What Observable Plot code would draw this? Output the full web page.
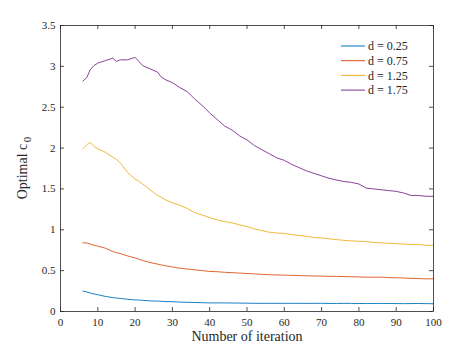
<!DOCTYPE html>
<html><head><meta charset="utf-8">
<script src="https://cdn.jsdelivr.net/npm/d3@7"></script>
<script src="https://cdn.jsdelivr.net/npm/@observablehq/plot@0.6"></script>
<style>
body{margin:0;background:#fff;}
#wrap{position:relative;width:467px;height:350px;}
</style></head><body><div id="wrap"></div>
<script>
const iterations = [6,7,8,9,10,12,14,15,16,18,20,21,22,24,26,27,28,30,32,34,36,38,40,42,44,46,48,50,52,54,56,58,60,62,64,66,68,70,72,74,76,78,80,82,84,86,88,90,92,94,96,98,100];
const c0_d025 = [0.25,0.24,0.225,0.215,0.205,0.185,0.17,0.165,0.16,0.15,0.142,0.14,0.137,0.13,0.127,0.125,0.122,
  0.12,0.115,0.112,0.11,0.108,0.105,0.105,0.105,0.104,0.103,0.102,0.10,0.10,0.10,0.10,0.10,0.10,0.10,0.099,0.10,0.10,0.099,0.098,0.10,0.099,0.098,0.097,0.098,0.099,0.098,0.097,0.096,0.097,0.098,0.096,0.095];
const c0_d075 = [0.84,0.84,0.825,0.81,0.80,0.775,0.735,0.72,0.71,0.68,0.655,0.64,0.625,0.60,0.58,0.57,0.56,
  0.545,0.53,0.52,0.51,0.50,0.49,0.487,0.48,0.475,0.47,0.465,0.46,0.455,0.45,0.447,0.445,0.442,0.44,0.437,0.435,0.433,0.43,0.43,0.427,0.425,0.423,0.42,0.42,0.42,0.415,0.413,0.41,0.405,0.403,0.40,0.40];
const c0_d125 = [1.99,2.04,2.07,2.02,1.99,1.95,1.89,1.86,1.82,1.70,1.62,1.595,1.56,1.49,1.42,1.40,1.37,
  1.33,1.30,1.26,1.21,1.18,1.15,1.12,1.10,1.085,1.06,1.04,1.01,0.99,0.97,0.96,0.955,0.94,0.93,0.92,0.905,0.90,0.89,0.88,0.87,0.865,0.86,0.855,0.845,0.84,0.835,0.83,0.825,0.82,0.82,0.81,0.81];
const c0_d175 = [2.82,2.86,2.96,3.01,3.04,3.07,3.10,3.06,3.08,3.08,3.11,3.06,3.01,2.97,2.93,2.87,2.84,
  2.80,2.74,2.69,2.60,2.52,2.43,2.35,2.27,2.22,2.15,2.10,2.03,1.98,1.93,1.88,1.85,1.80,1.76,1.72,1.69,1.66,1.63,1.61,1.59,1.58,1.56,1.51,1.50,1.49,1.48,1.47,1.45,1.42,1.42,1.41,1.41];
const seriesNames = ["d = 0.25","d = 0.75","d = 1.25","d = 1.75"];
const seriesColors = ["#0072BD","#D95319","#EDB120","#7E2F8E"];
const xTicks = [0,10,20,30,40,50,60,70,80,90,100];
const yTicks = [0,0.5,1,1.5,2,2.5,3,3.5];
const xLabel = "Number of iteration";
const yLabel = "Optimal c";
const yLabelSub = "0";

const allSeries = [c0_d025, c0_d075, c0_d125, c0_d175];
const rows = [];
allSeries.forEach((vals, i) => vals.forEach((v, j) => rows.push({x: iterations[j], y: v, s: seriesNames[i]})));

const W = 467, H = 350, mL = 60, mR = 34, mT = 25, mB = 39;
const innerW = W - mL - mR, innerH = H - mT - mB, tk = 4;
const axisColor = "#262626";
const font = "Liberation Serif, Times New Roman, serif";

const chart = Plot.plot({
  width: W, height: H, marginLeft: mL, marginRight: mR, marginTop: mT, marginBottom: mB,
  style: {fontFamily: font, fontSize: "11px", background: "#fff", color: axisColor},
  x: {domain: [0, 100]},
  y: {domain: [0, 3.5]},
  color: {domain: seriesNames, range: seriesColors},
  marks: [
    Plot.line(rows, {x: "x", y: "y", z: "s", stroke: "s", strokeWidth: 0.9}),
    Plot.tickX(xTicks, {x: d => d, insetTop: innerH - tk, stroke: axisColor, strokeWidth: 0.8}),
    Plot.tickX(xTicks, {x: d => d, insetBottom: innerH - tk, stroke: axisColor, strokeWidth: 0.8}),
    Plot.tickY(yTicks, {y: d => d, insetRight: innerW - tk, stroke: axisColor, strokeWidth: 0.8}),
    Plot.tickY(yTicks, {y: d => d, insetLeft: innerW - tk, stroke: axisColor, strokeWidth: 0.8}),
    Plot.frame({stroke: axisColor, strokeWidth: 0.8}),
    Plot.axisX(xTicks, {anchor: "bottom", tickSize: 0, tickPadding: 7, tickFormat: d => String(d), label: null, fontFamily: font}),
    Plot.axisY(yTicks, {anchor: "left", tickSize: 0, tickPadding: 5, tickFormat: d => String(d), label: null, fontFamily: font}),
    Plot.text([xLabel], {text: d => d, frameAnchor: "bottom", dy: 29, fontSize: 14, fill: axisColor, fontFamily: font})
  ]
});
document.getElementById("wrap").appendChild(chart);

const svg = d3.select(chart);

// y label with subscript
const t = svg.append("text")
  .attr("transform", `translate(27,${mT + innerH / 2}) rotate(-90)`)
  .attr("text-anchor", "middle")
  .attr("font-family", font)
  .attr("font-size", 14)
  .attr("fill", axisColor);
t.append("tspan").text(yLabel);
t.append("tspan").attr("dy", 4).attr("dx", 1.5).attr("font-size", 11).text(yLabelSub);

// legend (inside the plot, top right, no box)
const lgX = 341, lgY = 46, lgStep = 14.7, swW = 24;
const lg = svg.append("g").attr("font-family", font).attr("font-size", 12).attr("fill", axisColor)
  .attr("text-anchor", "start");
seriesNames.forEach((n, i) => {
  const yy = lgY + i * lgStep;
  lg.append("line").attr("x1", lgX).attr("x2", lgX + swW).attr("y1", yy).attr("y2", yy)
    .attr("stroke", seriesColors[i]).attr("stroke-width", 1);
  lg.append("text").attr("x", lgX + swW + 3).attr("y", yy).attr("dy", "0.35em")
    .attr("text-anchor", "start").text(n);
});
</script>
</body></html>
